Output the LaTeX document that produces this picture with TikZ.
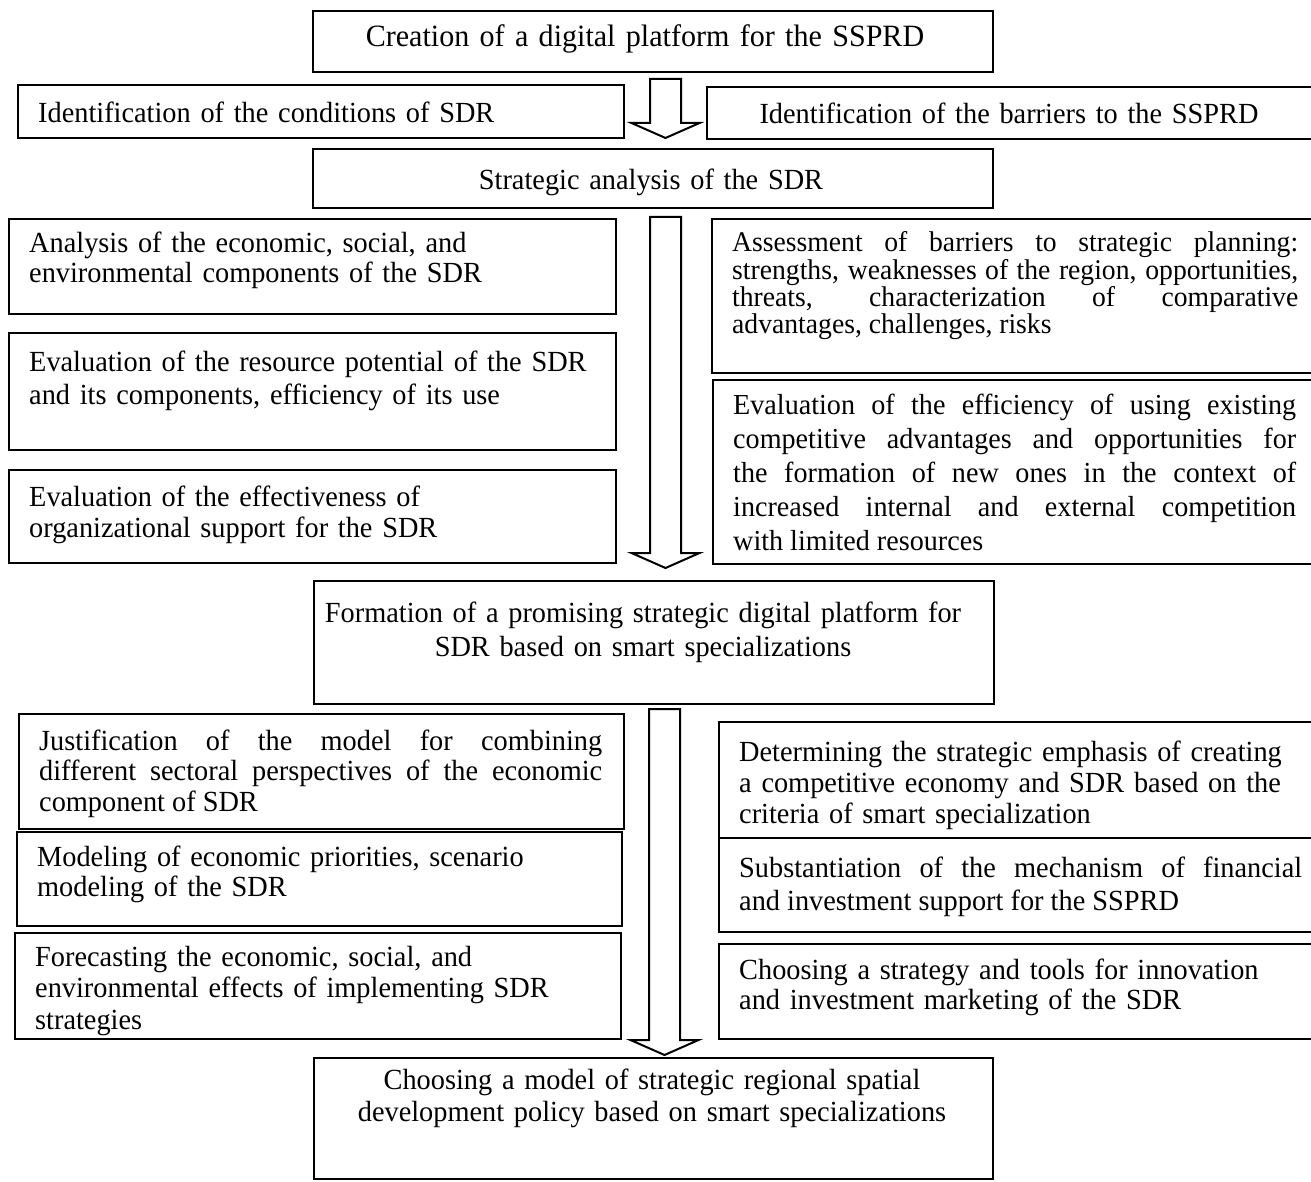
\documentclass[tikz,border=0pt]{standalone}
\usepackage{fontspec}
\setmainfont{Liberation Serif}[FakeStretch=0.97]
\usetikzlibrary{calc}

% framed panel given by its corners (x1,y1) and (x2,y2), y measured downwards
\newcommand\panel[5]{%
  \node[box, anchor=north west,
        minimum width={(#4-#2)*1pt}, minimum height={(#5-#3)*1pt}] (#1) at (#2,#3) {};}

% hollow block arrow pointing down: name, x of axis, y of shaft top, y of tip
\newcommand\hollowarrow[4]{%
  \coordinate (#1-top) at (#2,#3);
  \coordinate (#1-tip) at (#2,#4);
  \draw[arrowline]
    ($(#1-top)+(-15.5,0)$) -- ($(#1-top)+(15.5,0)$) --
    ($(#1-tip)+(15.5,-15)$) -- ($(#1-tip)+(34,-15)$) -- (#1-tip) --
    ($(#1-tip)+(-34,-15)$) -- ($(#1-tip)+(-15.5,-15)$) -- cycle;}

\begin{document}
\begin{tikzpicture}[x=1pt,y=-1pt,
  box/.style={draw=black, line width=2pt, rectangle, inner sep=0pt, fill=none},
  arrowline/.style={draw=black, line width=2pt, line join=miter, fill=white},
  txt/.style={anchor=base west, inner sep=0pt, align=left,
              font=\fontsize{29.2}{#1}\selectfont},
  jtxt/.style={anchor=base west, inner sep=0pt, align=justify,
              font=\fontsize{29.2}{#1}\selectfont},
  ctxt/.style={anchor=base, inner sep=0pt, align=center,
              font=\fontsize{29.2}{#1}\selectfont}]
\useasboundingbox (0,0) rectangle (1311,1182);

% ---- frames ----
\panel{create}{312}{10}{992}{71}
\panel{condsdr}{17}{84}{623}{137}
\panel{barriers}{706}{86}{1318}{138}
\panel{strat}{312}{148}{992}{207}

\panel{analysis}{8}{218}{615}{313}
\panel{resource}{8}{332}{615}{449}
\panel{orgsup}{8}{469}{615}{562}
\panel{assess}{711}{218}{1318}{372}
\panel{effic}{712}{379}{1318}{563}

\panel{formation}{313}{580}{993}{703}

\panel{justif}{18}{713}{623}{828}
\panel{modeling}{16}{831}{621}{925}
\panel{forecast}{14}{932}{620}{1038}
\panel{emphasis}{718}{721}{1318}{837}
\panel{finance}{718}{837}{1318}{931}
\panel{marketing}{718}{943}{1318}{1038}

\panel{policy}{313}{1057}{992}{1178}

% ---- block arrows ----
\hollowarrow{arrA}{665.5}{79}{138}
\hollowarrow{arrB}{665.5}{217}{568}
\hollowarrow{arrC}{664.5}{709}{1055}

% ---- texts ----
\node[ctxt=33, text width=660pt, font=\fontsize{31}{33}\selectfont] (create-t) at (645,47)
  {Creation of a digital platform for the SSPRD};
\node[txt=31, text width=580pt] (condsdr-t) at (38,123)
  {Identification of the conditions of SDR};
\node[ctxt=31, text width=590pt] (barriers-t) at (1009,124)
  {Identification of the barriers to the SSPRD};
\node[ctxt=31, text width=660pt] (strat-t) at (651,190)
  {Strategic analysis of the SDR};

\node[txt=30, text width=580pt] (analysis-t) at (29,253)
  {Analysis of the economic, social, and\\ environmental components of the SDR};
\node[txt=33, text width=580pt] (resource-t) at (29,371)
  {Evaluation of the resource potential of the SDR\\ and its components, efficiency of its use};
\node[txt=31, text width=580pt] (orgsup-t) at (29,506)
  {Evaluation of the effectiveness of\\ organizational support for the SDR};

\node[jtxt=24, text width=566pt, font=\fontsize{28.5}{24}\selectfont] (assess-t) at (732,252)
  {Assessment of barriers to strategic planning:\linebreak
   strengths, weaknesses of the region, opportunities,\linebreak
   threats, characterization of comparative\linebreak
   advantages, challenges, risks};
\node[jtxt=34, text width=563pt, font=\fontsize{29}{34}\selectfont] (effic-t) at (733,414)
  {Evaluation of the efficiency of using existing\linebreak
   competitive advantages and opportunities for\linebreak
   the formation of new ones in the context of\linebreak
   increased internal and external competition\linebreak
   with limited resources};

\node[ctxt=34, text width=660pt] (formation-t) at (643,622)
  {Formation of a promising strategic digital platform for\\ SDR based on smart specializations};

\node[jtxt=30.5, text width=563pt] (justif-t) at (39,750)
  {Justification of the model for combining\linebreak
   different sectoral perspectives of the economic\linebreak
   component of SDR};
\node[txt=30, text width=580pt] (modeling-t) at (37,866)
  {Modeling of economic priorities, scenario\\ modeling of the SDR};
\node[txt=31.5, text width=580pt] (forecast-t) at (35,966)
  {Forecasting the economic, social, and\\ environmental effects of implementing SDR\\ strategies};

\node[txt=31, text width=570pt] (emphasis-t) at (739,761)
  {Determining the strategic emphasis of creating\\ a competitive economy and SDR based on the\\ criteria of smart specialization};
\node[jtxt=33, text width=563pt] (finance-t) at (739,877)
  {Substantiation of the mechanism of financial\linebreak
   and investment support for the SSPRD};
\node[txt=30, text width=570pt] (marketing-t) at (739,979)
  {Choosing a strategy and tools for innovation\\ and investment marketing of the SDR};

\node[ctxt=32, text width=660pt] (policy-t) at (652,1089)
  {Choosing a model of strategic regional spatial\\ development policy based on smart specializations};
\end{tikzpicture}
\end{document}
